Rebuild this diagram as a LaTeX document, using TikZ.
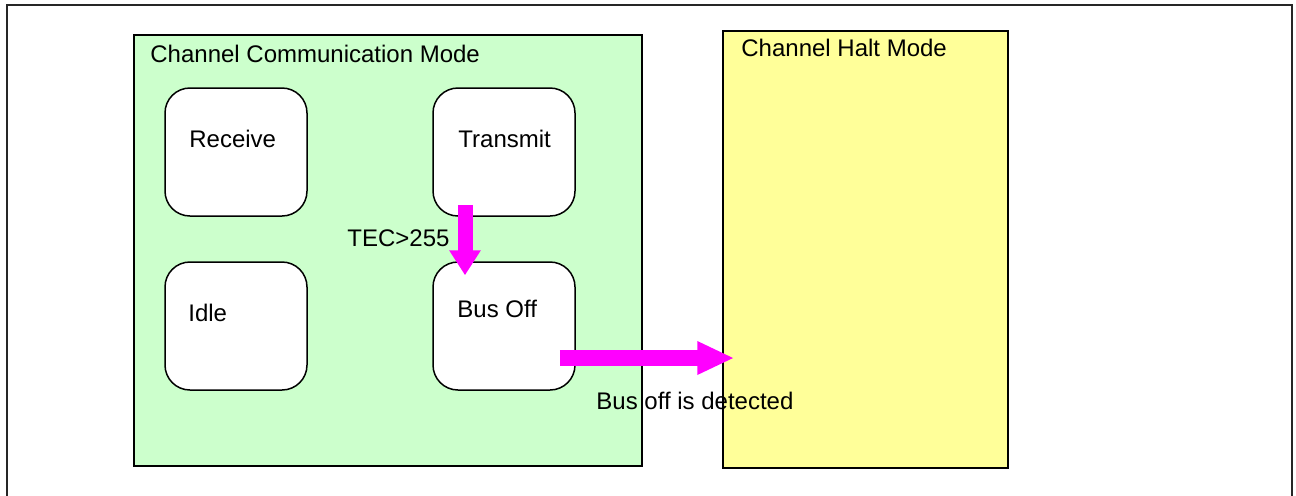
\documentclass[tikz,border=0pt]{standalone}
\usepackage{fontspec}
\setmainfont{Liberation Sans}
\usetikzlibrary{arrows.meta,calc}
\definecolor{cgreen}{HTML}{CCFFCC}
\definecolor{cyellow}{HTML}{FFFF99}
\definecolor{cmag}{HTML}{FF00FF}
\begin{document}
\begin{tikzpicture}[x=0.5pt,y=-0.5pt,
  modebox/.style={draw=black,line width=0.75pt,inner sep=0pt},
  statebox/.style={draw=black,line width=0.75pt,fill=white,rounded corners=12.5pt,
    minimum width=71pt,minimum height=64pt,inner sep=0pt},
  lbl/.style={anchor=base west,inner sep=0pt,font=\fontsize{12pt}{14pt}\selectfont},
  downarrow/.style={draw=cmag,line width=7.5pt,-{Triangle[width=15pt,length=12.5pt]}},
  rightarrow/.style={draw=cmag,line width=8pt,-{Triangle[width=15.5pt,length=18.5pt]}}]
\useasboundingbox (0,0) rectangle (1296,495);
\fill[white] (0,0) rectangle (1296,495);
\draw[line width=0.75pt,draw=black!85] (7,5) rectangle (1292,510);
% mode boxes
\node[modebox,fill=cgreen,minimum width=254pt,minimum height=215.5pt] (comm) at (388,250.5) {};
\node[modebox,fill=cyellow,minimum width=142.5pt,minimum height=218.5pt] (halt) at (865.5,249.5) {};
\node[lbl] (commlbl) at (150,62) {Channel Communication Mode};
\node[lbl] (haltlbl) at (741,56) {Channel Halt Mode};
% states
\node[statebox] (rx) at (236,152) {};
\node[statebox] (tx) at (504,152) {};
\node[statebox] (idle) at (236,326) {};
\node[statebox] (bo) at (504,326) {};
\node[lbl] (rxlbl) at (189,147) {Receive};
\node[lbl] (txlbl) at (458,147) {Transmit};
\node[lbl] (idlelbl) at (188,321) {Idle};
\node[lbl] (bolbl) at (457,317) {Bus Off};
% transitions
\draw[downarrow] ($(tx.south)+(-39,-12)$) -- ($(bo.north)+(-39,14)$);
\node[lbl] (teclbl) at (347,246) {TEC>255};
\draw[rightarrow] ($(bo.east)+(-16,32)$) -- ($(halt.west)+(12,108.5)$);
\node[lbl] (detlbl) at (596,409) {Bus off is detected};
\end{tikzpicture}
\end{document}
